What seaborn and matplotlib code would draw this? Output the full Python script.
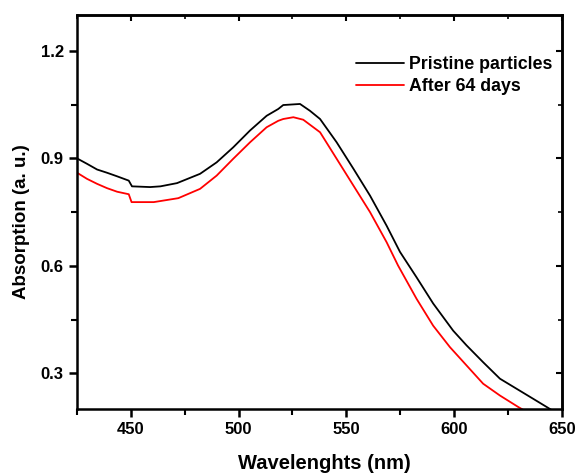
import numpy as np
import pandas as pd
import matplotlib
matplotlib.use("Agg")
import matplotlib.pyplot as plt
import seaborn as sns
from matplotlib.ticker import MultipleLocator

# Pristine particles (black)
wl_pristine = [425, 429.6, 434.3, 438.9, 443.6, 449.0, 450.5, 458.9, 463.7, 471.4, 482.1, 489.8,
               497.5, 505.3, 513.0, 518.4, 520.7, 528.5, 533.1, 537.8, 545.5, 553.3, 561.0,
               568.7, 574.9, 582.6, 590.3, 599.6, 605.8, 613.5, 621.3, 629.0, 636.7, 643.0, 646.0]
abs_pristine = [0.900, 0.885, 0.869, 0.860, 0.850, 0.838, 0.822, 0.820, 0.822, 0.831, 0.857, 0.889,
                0.931, 0.978, 1.019, 1.038, 1.049, 1.052, 1.033, 1.010, 0.945, 0.871, 0.796,
                0.712, 0.639, 0.568, 0.495, 0.419, 0.378, 0.331, 0.285, 0.257, 0.229, 0.206, 0.195]

# After 64 days (red)
wl_aged = [425, 429.6, 434.3, 438.9, 443.6, 449.0, 450.3, 460.6, 472.0, 482.1, 489.8, 497.5,
           505.3, 513.0, 518.4, 520.7, 525.4, 530.0, 537.8, 545.5, 553.3, 561.0, 568.7, 574.0,
           582.6, 590.3, 598.1, 605.8, 613.5, 621.3, 629.8, 633.0]
abs_aged = [0.860, 0.843, 0.829, 0.817, 0.807, 0.800, 0.778, 0.778, 0.789, 0.815, 0.852, 0.899,
            0.945, 0.987, 1.005, 1.010, 1.015, 1.008, 0.973, 0.899, 0.824, 0.750, 0.666, 0.601,
            0.508, 0.433, 0.373, 0.322, 0.271, 0.238, 0.206, 0.195]

series_names = ["Pristine particles", "After 64 days"]
x_ticks = [450, 500, 550, 600, 650]
y_ticks = [0.3, 0.6, 0.9, 1.2]

sns.set_style("ticks")
plt.rcParams['font.family'] = ['Liberation Sans', 'DejaVu Sans']
plt.rcParams['font.weight'] = 'bold'
plt.rcParams['text.color'] = 'black'
plt.rcParams['axes.labelcolor'] = 'black'
plt.rcParams['xtick.color'] = 'black'
plt.rcParams['ytick.color'] = 'black'

fig = plt.figure(figsize=(5.75, 4.73), dpi=100)
ax = fig.add_axes([0.134, 0.135, 0.843, 0.833])

sns.lineplot(x=wl_pristine, y=abs_pristine, ax=ax, color="black", lw=1.3,
             label=series_names[0], estimator=None, sort=False)
sns.lineplot(x=wl_aged, y=abs_aged, ax=ax, color="red", lw=1.3,
             label=series_names[1], estimator=None, sort=False)

ax.set_xlim(425, 650)
ax.set_ylim(0.2, 1.3)
ax.set_xticks(x_ticks)
ax.set_yticks(y_ticks)
ax.set_yticklabels([f"{v:.1f}" for v in y_ticks])
ax.xaxis.set_minor_locator(MultipleLocator(25))
ax.yaxis.set_minor_locator(MultipleLocator(0.15))

for s in ax.spines.values():
    s.set_visible(True)
    s.set_linewidth(1.8)
    s.set_color("black")

ax.tick_params(axis='both', which='major', direction='out', length=6, width=1.8,
               labelsize=12, top=False, right=False, colors='black', labelcolor='black')
ax.tick_params(axis='both', which='minor', direction='out', length=4, width=1.5,
               top=False, right=False, colors='black')
# inward ticks on top/right
ax2 = ax.secondary_xaxis('top')
ax2.set_xticks(x_ticks)
ax2.xaxis.set_minor_locator(MultipleLocator(25))
ax2.tick_params(which='major', direction='in', length=4, width=1.5, labeltop=False, colors='black')
ax2.tick_params(which='minor', direction='in', length=3, width=1.2, colors='black')
ax3 = ax.secondary_yaxis('right')
ax3.set_yticks(y_ticks)
ax3.yaxis.set_minor_locator(MultipleLocator(0.15))
ax3.tick_params(which='major', direction='in', length=4, width=1.5, labelright=False, colors='black')
ax3.tick_params(which='minor', direction='in', length=3, width=1.2, colors='black')
for a in (ax2, ax3):
    for s in a.spines.values():
        s.set_linewidth(1.8)
        s.set_color("black")

for lab in ax.get_xticklabels() + ax.get_yticklabels():
    lab.set_fontweight('bold')
    lab.set_color('black')

ax.set_xlabel("Wavelenghts (nm)", fontsize=14.5, fontweight='bold', color='black')
ax.set_ylabel("Absorption (a. u.)", fontsize=13.5, fontweight='bold', color='black')
ax.xaxis.set_label_coords(0.511, -0.115)
ax.yaxis.set_label_coords(-0.097, 0.477)

leg = ax.legend(loc='upper right', bbox_to_anchor=(1.006, 0.927), frameon=False,
                prop={'weight': 'bold', 'size': 12.8}, handlelength=2.65,
                handletextpad=0.3, labelspacing=0.25, borderaxespad=0.3)
for t in leg.get_texts():
    t.set_color('black')

fig.savefig("out.png", dpi=100)
